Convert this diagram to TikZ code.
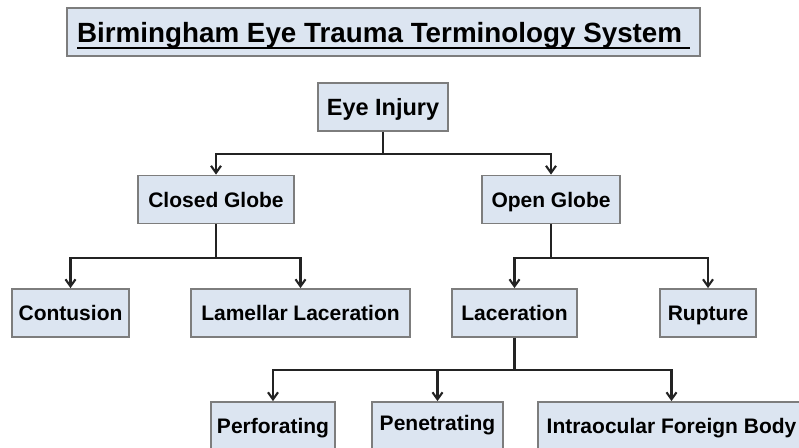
\documentclass[tikz,border=0pt]{standalone}
\usepackage{fontspec}
\setmainfont{Liberation Sans}
\usetikzlibrary{arrows.meta}

\definecolor{boxfill}{RGB}{220,229,241}
\definecolor{boxline}{RGB}{125,125,125}
\definecolor{wire}{RGB}{35,35,35}
\newcommand\ulbox[1]{\sbox0{#1}\rlap{\usebox0}\rule[-7pt]{\wd0}{2pt}}

\begin{document}
\begin{tikzpicture}[
        x=1pt, y=-1pt,
        box/.style  = {draw=boxline, line width=1.8pt, fill=boxfill, inner sep=0pt,
                       minimum height=48pt, text height=15pt, text depth=0pt,
                       font=\bfseries\fontsize{21}{25}\selectfont},
        head/.style = {box, text height=20pt, font=\bfseries\fontsize{27.8}{32}\selectfont},
        ar/.style   = {-{Straight Barb[length=7pt, width=10pt]}, line width=2.1pt, wire},
    ]
        \useasboundingbox (0,0) rectangle (799,447);
        \clip (0,0) rectangle (799,447);

        % ---- title ----
        \node (title) [head, minimum width=633pt] at (383.5,32)
            {\ulbox{Birmingham Eye Trauma Terminology System\ }};

        % ---- nodes: rows at y = 107, 199.5, 313, 426 ----
        \node (injury)   [box, minimum width=130pt, text height=17pt,
                          font=\bfseries\fontsize{23.5}{28}\selectfont] at (383,107) {Eye Injury};
        \node (closed)   [box, minimum width=156pt] at (216,199.5) {Closed Globe};
        \node (open)     [box, minimum width=138pt] at (551,199.5) {Open Globe};
        \node (contus)   [box, minimum width=117pt] at (70.5,313)  {Contusion};
        \node (lamellar) [box, minimum width=219pt] at (300.5,313) {Lamellar Laceration};
        \node (lacer)    [box, minimum width=125pt] at (514.5,313) {Laceration};
        \node (rupture)  [box, minimum width=96pt]  at (708,313)   {Rupture};
        \node (perfor)   [box, minimum width=124pt] at (273,426)   {Perforating};
        \node (penetr)   [box, minimum width=131pt, text depth=7pt] at (437.5,426) {Penetrating};
        \node (iofb)     [box, minimum width=267pt] at (671.5,426) {Intraocular Foreign Body};

        % ---- connectors: down, across, down ----
        \draw[ar] (injury.south) -- ++(0,22) -| (closed.north);
        \draw[ar] (injury.south) -- ++(0,22) -| (open.north);

        \draw[ar] (closed.south) -- ++(0,34) -| (contus.north);
        \draw[ar] (closed.south) -- ++(0,34) -| (lamellar.north);

        \draw[ar] (open.south) -- ++(0,34) -| (lacer.north);
        \draw[ar] (open.south) -- ++(0,34) -| (rupture.north);

        \draw[ar] (lacer.south) -- ++(0,32) -| (perfor.north);
        \draw[ar] (lacer.south) -- ++(0,32) -| (penetr.north);
        \draw[ar] (lacer.south) -- ++(0,32) -| (iofb.north);
    \end{tikzpicture}
\end{document}
